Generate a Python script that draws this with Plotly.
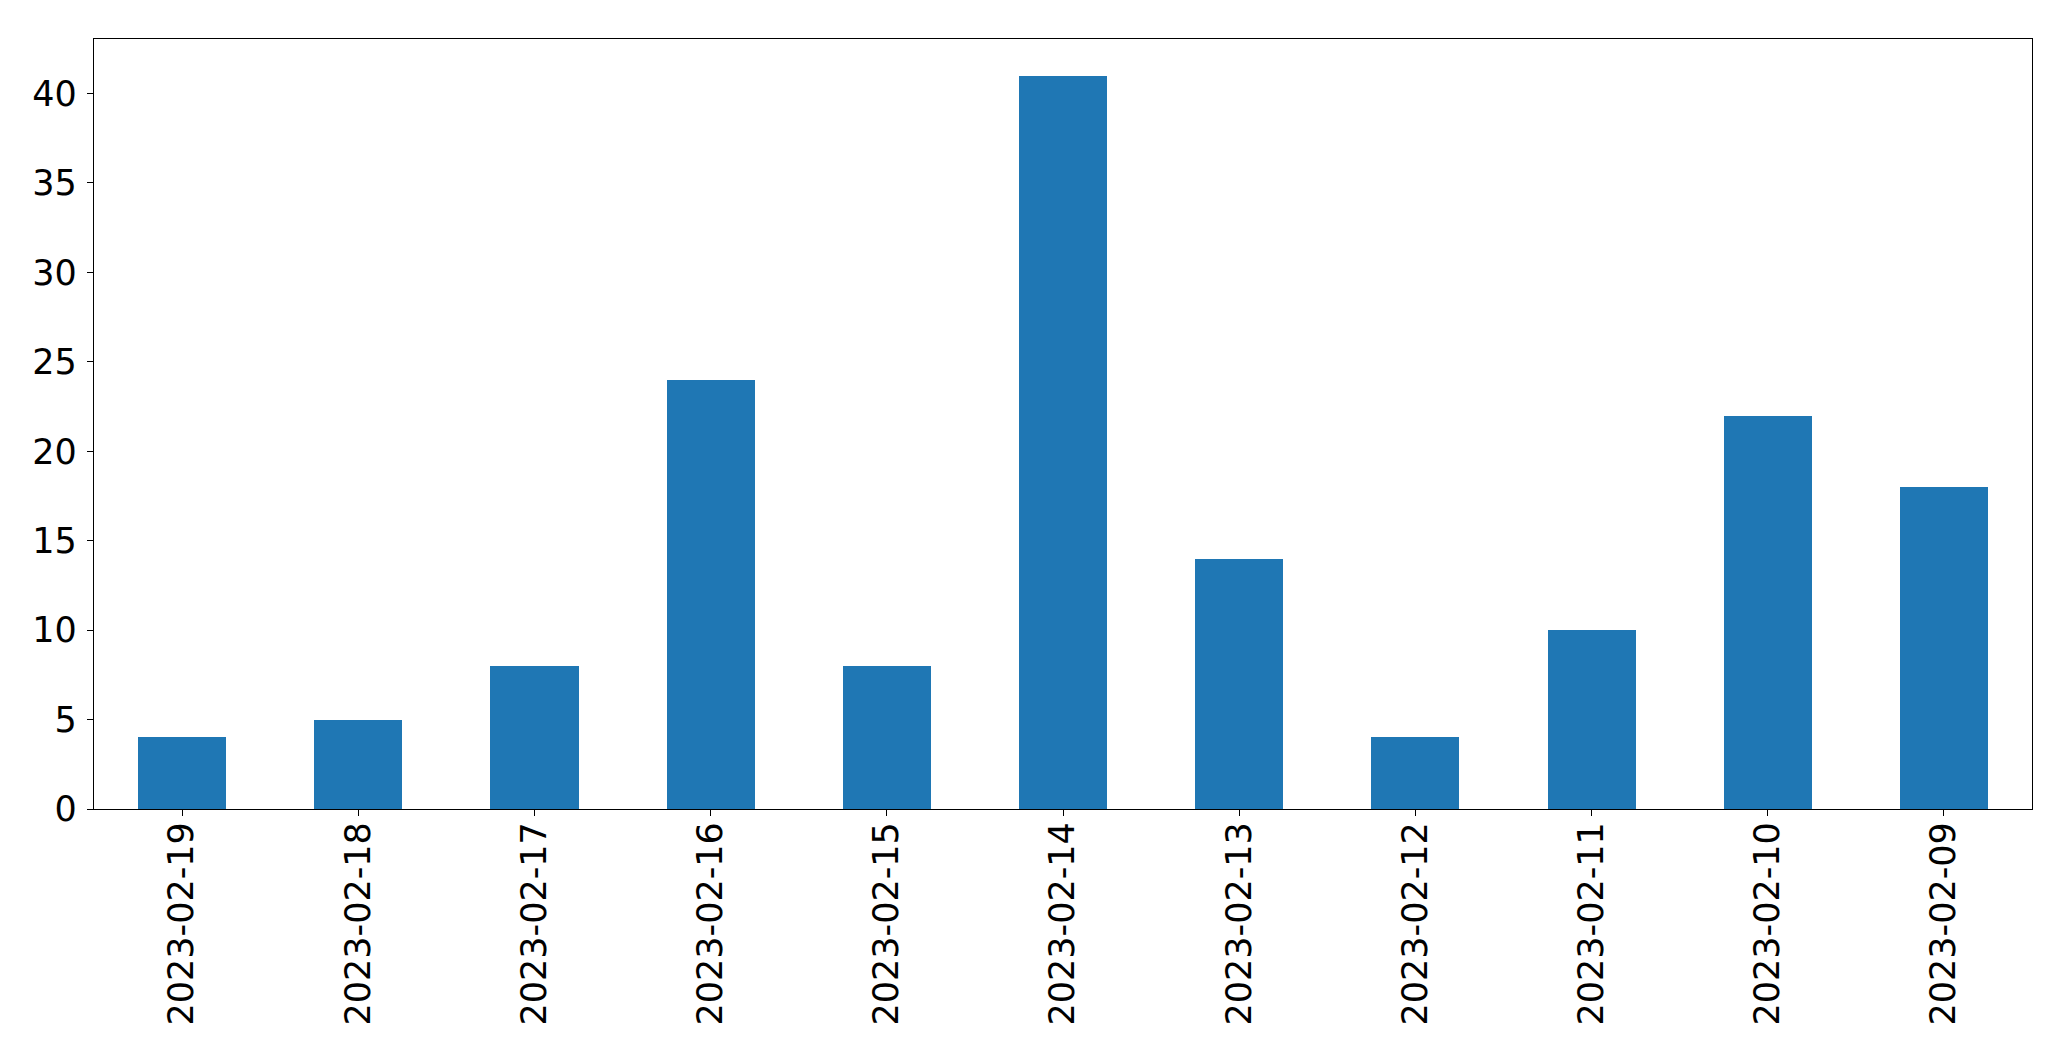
import plotly.graph_objects as go

dates = ["2023-02-19", "2023-02-18", "2023-02-17", "2023-02-16", "2023-02-15",
         "2023-02-14", "2023-02-13", "2023-02-12", "2023-02-11", "2023-02-10",
         "2023-02-09"]
counts = [4, 5, 8, 24, 8, 41, 14, 4, 10, 22, 18]

fig = go.Figure()
fig.add_trace(go.Bar(x=dates, y=counts, width=0.5, marker=dict(color="#1f77b4", line=dict(width=0))))

axis_common = dict(showline=True, mirror=True, linecolor="black", linewidth=1.3,
                   ticks="outside", ticklen=6, tickwidth=1.3, tickcolor="black",
                   showgrid=False, zeroline=False,
                   tickfont=dict(family="DejaVu Sans", size=35, color="black"))

fig.update_xaxes(type="category", range=[-0.5, len(dates) - 0.5], tickangle=-90,
                 ticklabelstandoff=-8, **axis_common)
fig.update_yaxes(range=[0, max(counts) * 1.05], tickvals=[0, 5, 10, 15, 20, 25, 30, 35, 40],
                 ticklabelstandoff=3, **axis_common)

fig.update_layout(width=2071, height=1061, autosize=False,
                  margin=dict(l=94, r=39, t=39, b=252, pad=0),
                  plot_bgcolor="white", paper_bgcolor="white", showlegend=False,
                  bargap=0)

fig.write_html("out.html", config={"displayModeBar": False},
               post_script="document.body.style.margin='0';document.body.style.overflow='hidden';")
